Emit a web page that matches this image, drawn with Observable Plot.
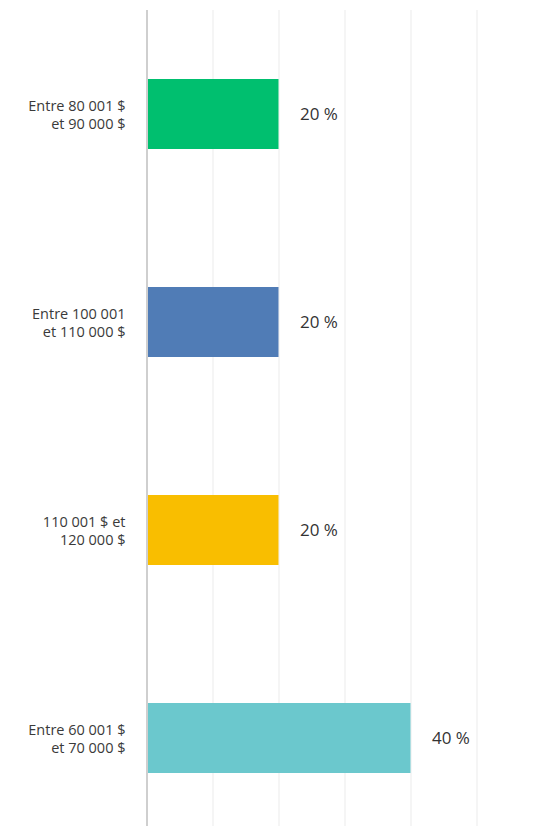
<!DOCTYPE html>
<html>
<head>
<meta charset="utf-8">
<script src="https://cdn.jsdelivr.net/npm/d3@7"></script>
<script src="https://cdn.jsdelivr.net/npm/@observablehq/plot@0.6"></script>
<style>
  html, body { margin: 0; padding: 0; background: #fff; }
  #chart svg { display: block; }
</style>
</head>
<body>
<div id="chart"></div>
<script>
const categories = [
  "Entre 80 001 $\net 90 000 $",
  "Entre 100 001\net 110 000 $",
  "110 001 $ et\n120 000 $",
  "Entre 60 001 $\net 70 000 $"
];
const values = [20, 20, 20, 40];
const colors = ["#00BF6F", "#507CB6", "#F9BE00", "#6BC8CD"];
const gridTicks = [10, 20, 30, 40, 50];

const data = categories.map((c, i) => ({category: c, value: values[i], color: colors[i]}));

const chart = Plot.plot({
  width: 538,
  height: 826,
  marginTop: 10,
  marginBottom: 0,
  marginLeft: 146,
  marginRight: 0,
  style: {fontFamily: "'Open Sans', 'Noto Sans', sans-serif", color: "#333", background: "#fff"},
  x: {domain: [0, 60], range: [146.5, 542.5], axis: null},
  y: {domain: categories, range: [9, 843], paddingInner: 0.665, paddingOuter: 0.33, axis: null, label: null},
  marks: [
    Plot.ruleX(gridTicks, {stroke: "#ebebeb", strokeWidth: 1}),
    Plot.barX(data, {x: "value", y: "category", fill: "color"}),
    Plot.ruleX([0], {stroke: "#cfcfcf", strokeWidth: 2}),
    Plot.axisY({tickSize: 0, tickPadding: 21, fontSize: 14.5, lineHeight: 1.2, fill: "#3a3a3a", label: null}),
    Plot.text(data, {x: "value", y: "category", text: d => d.value + " %", textAnchor: "start", dx: 21, fontSize: 17, fill: "#333"})
  ]
});
document.getElementById("chart").appendChild(chart);
</script>
</body>
</html>
